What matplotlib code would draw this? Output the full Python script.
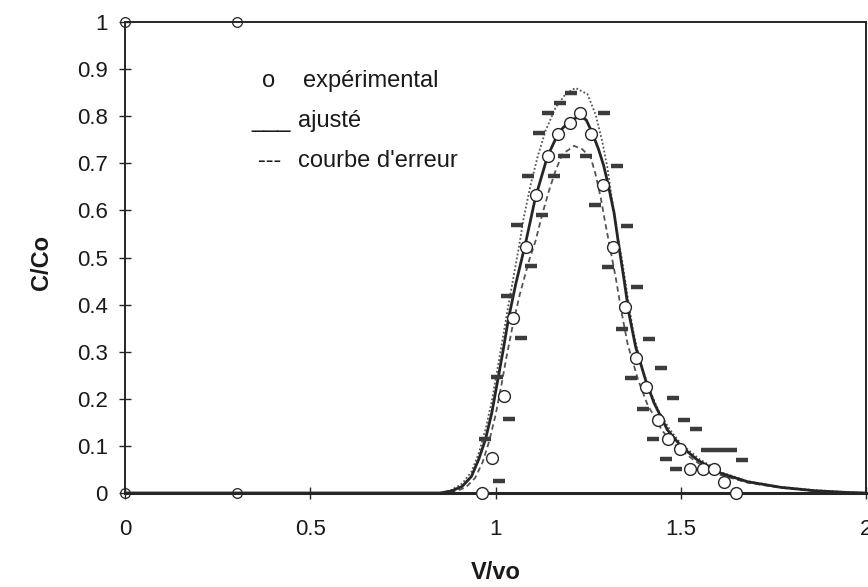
import matplotlib
matplotlib.use("Agg")
import matplotlib.pyplot as plt

plt.rcParams['font.family'] = ['Liberation Sans', 'DejaVu Sans']

# points expérimentaux (cercles)
exp_x = [0.964, 0.991, 1.022, 1.048, 1.081, 1.108, 1.141, 1.168, 1.200, 1.228, 1.259, 1.290,
         1.317, 1.349, 1.380, 1.407, 1.439, 1.466, 1.498, 1.525, 1.559, 1.591, 1.617, 1.649]
exp_y = [0.0, 0.074, 0.205, 0.372, 0.523, 0.632, 0.716, 0.763, 0.785, 0.806, 0.762, 0.653,
         0.523, 0.395, 0.287, 0.224, 0.156, 0.114, 0.093, 0.050, 0.050, 0.050, 0.024, 0.0]

# injection (échelon)
inj_x = [0.0, 0.302, 0.0, 0.302]
inj_y = [1.0, 1.0, 0.0, 0.0]

# points d'erreur (tirets)
errh_x = [0.973, 1.005, 1.030, 1.057, 1.087, 1.117, 1.142, 1.174, 1.203, 1.293, 1.327, 1.356,
          1.381, 1.415, 1.448, 1.480, 1.509, 1.541, 1.570, 1.603, 1.635, 1.664]
errh_y = [0.114, 0.246, 0.418, 0.568, 0.673, 0.764, 0.806, 0.828, 0.849, 0.806, 0.694, 0.567,
          0.438, 0.328, 0.265, 0.201, 0.155, 0.136, 0.091, 0.091, 0.091, 0.070]
errl_x = [1.009, 1.036, 1.068, 1.095, 1.126, 1.159, 1.185, 1.243, 1.268, 1.304, 1.341, 1.367,
          1.399, 1.426, 1.459, 1.486]
errl_y = [0.026, 0.157, 0.329, 0.481, 0.590, 0.673, 0.716, 0.716, 0.611, 0.480, 0.349, 0.244,
          0.178, 0.114, 0.072, 0.050]

# courbe ajustée
fit_x = [0.0, 0.85, 0.88, 0.91, 0.935, 0.955, 0.973, 0.99, 1.005, 1.02, 1.035, 1.055, 1.081,
         1.108, 1.14, 1.17, 1.20, 1.228, 1.245, 1.261, 1.278, 1.292, 1.304, 1.320, 1.333, 1.347,
         1.360, 1.378, 1.405, 1.428, 1.464, 1.500, 1.545, 1.608, 1.680, 1.770, 1.860, 1.951, 2.0]
fit_y = [0.0, 0.0, 0.004, 0.014, 0.035, 0.072, 0.114, 0.170, 0.235, 0.300, 0.370, 0.445, 0.530,
         0.628, 0.714, 0.765, 0.790, 0.800, 0.792, 0.765, 0.730, 0.695, 0.655, 0.595, 0.524, 0.453,
         0.382, 0.311, 0.240, 0.191, 0.134, 0.100, 0.070, 0.042, 0.024, 0.012, 0.005, 0.001, 0.0]

# courbes d'erreur haute / basse
up_x = [0.0, 0.85, 0.88, 0.91, 0.935, 0.955, 0.973, 0.99, 1.005, 1.02, 1.035, 1.063, 1.076, 1.095,
        1.113, 1.135, 1.162, 1.190, 1.216, 1.248, 1.270, 1.288, 1.302, 1.315, 1.329, 1.342, 1.356,
        1.370, 1.390, 1.415, 1.44, 1.47, 1.50, 1.55, 1.61, 1.68, 1.77, 1.86, 1.95, 2.0]
up_y = [0.0, 0.0, 0.006, 0.020, 0.045, 0.085, 0.135, 0.195, 0.262, 0.330, 0.400, 0.521, 0.584, 0.655,
        0.712, 0.769, 0.818, 0.848, 0.860, 0.847, 0.804, 0.747, 0.691, 0.620, 0.549, 0.492, 0.420,
        0.350, 0.280, 0.220, 0.175, 0.135, 0.105, 0.072, 0.044, 0.025, 0.013, 0.006, 0.002, 0.0]
lo_x = [0.0, 0.86, 0.89, 0.92, 0.945, 0.965, 0.983, 1.00, 1.015, 1.03, 1.045, 1.065, 1.090, 1.108,
        1.126, 1.144, 1.162, 1.180, 1.212, 1.234, 1.257, 1.270, 1.284, 1.297, 1.311, 1.325, 1.340,
        1.357, 1.385, 1.41, 1.45, 1.49, 1.54, 1.60, 1.68, 1.77, 1.86, 1.95, 2.0]
lo_y = [0.0, 0.0, 0.003, 0.012, 0.032, 0.065, 0.110, 0.165, 0.225, 0.290, 0.350, 0.420, 0.492, 0.535,
        0.591, 0.641, 0.684, 0.719, 0.737, 0.730, 0.712, 0.677, 0.627, 0.570, 0.513, 0.455, 0.385,
        0.315, 0.240, 0.188, 0.132, 0.098, 0.067, 0.040, 0.022, 0.011, 0.004, 0.001, 0.0]

xticks = [0, 0.5, 1, 1.5, 2]
xtick_labels = ['0', '0.5', '1', '1.5', '2']
yticks = [0, 0.1, 0.2, 0.3, 0.4, 0.5, 0.6, 0.7, 0.8, 0.9, 1]
ytick_labels = ['0', '0.1', '0.2', '0.3', '0.4', '0.5', '0.6', '0.7', '0.8', '0.9', '1']

W, H = 868, 587
fig = plt.figure(figsize=(W / 100, H / 100), dpi=100)
ax = fig.add_axes([125 / W, 94 / H, 741 / W, 471 / H])

ink = '#262626'
ax.plot(up_x, up_y, ls=(0, (1, 1.2)), color='#555555', lw=1.3, zorder=2)
ax.plot(lo_x, lo_y, ls=(0, (3, 2)), color='#555555', lw=1.3, zorder=2)
ax.plot(fit_x, fit_y, '-', color=ink, lw=2.0, zorder=3)
ax.plot(errh_x, errh_y, ls='none', marker='_', ms=9, mew=3.2, color='#3c3c3c', zorder=4)
ax.plot(errl_x, errl_y, ls='none', marker='_', ms=9, mew=3.2, color='#3c3c3c', zorder=4)
ax.plot(exp_x, exp_y, ls='none', marker='o', ms=8.5, mfc='white', mec=ink, mew=1.0,
        zorder=5, clip_on=False)
ax.plot(inj_x, inj_y, ls='none', marker='o', ms=7, mfc='none', mec=ink, mew=0.9,
        zorder=5, clip_on=False)

ax.set_xlim(0, 2)
ax.set_ylim(0, 1)
ax.set_xticks(xticks)
ax.set_xticklabels(xtick_labels)
ax.set_yticks(yticks)
ax.set_yticklabels(ytick_labels)
for s in ['left', 'top', 'right']:
    ax.spines[s].set_linewidth(1.4)
    ax.spines[s].set_color(ink)
ax.spines['bottom'].set_linewidth(2.2)
ax.spines['bottom'].set_color(ink)
ax.tick_params(axis='both', direction='inout', length=9, width=1.0, color=ink,
               labelsize=16, labelcolor='#1a1a1a')
ax.tick_params(axis='x', pad=14)
ax.tick_params(axis='y', pad=8)

ax.set_xlabel('V/vo', fontsize=17, fontweight='bold', color='#1a1a1a')
ax.set_ylabel('C/Co', fontsize=17, fontweight='bold', color='#1a1a1a')
ax.xaxis.set_label_coords(0.5, -0.145)
ax.yaxis.set_label_coords(-0.097, 0.49)

# légende écrite à la main
tk = dict(transform=ax.transAxes, fontsize=17, color='#1a1a1a', va='baseline')
ax.text(0.185, 0.862, 'o', **tk)
ax.text(0.240, 0.862, 'expérimental', **tk)
ax.text(0.171, 0.777, '___', **tk)
ax.text(0.2335, 0.777, 'ajusté', **tk)
ax.text(0.1795, 0.692, '---', **tk)
ax.text(0.2335, 0.692, "courbe d'erreur", **tk)

fig.savefig('out.png', dpi=100)
